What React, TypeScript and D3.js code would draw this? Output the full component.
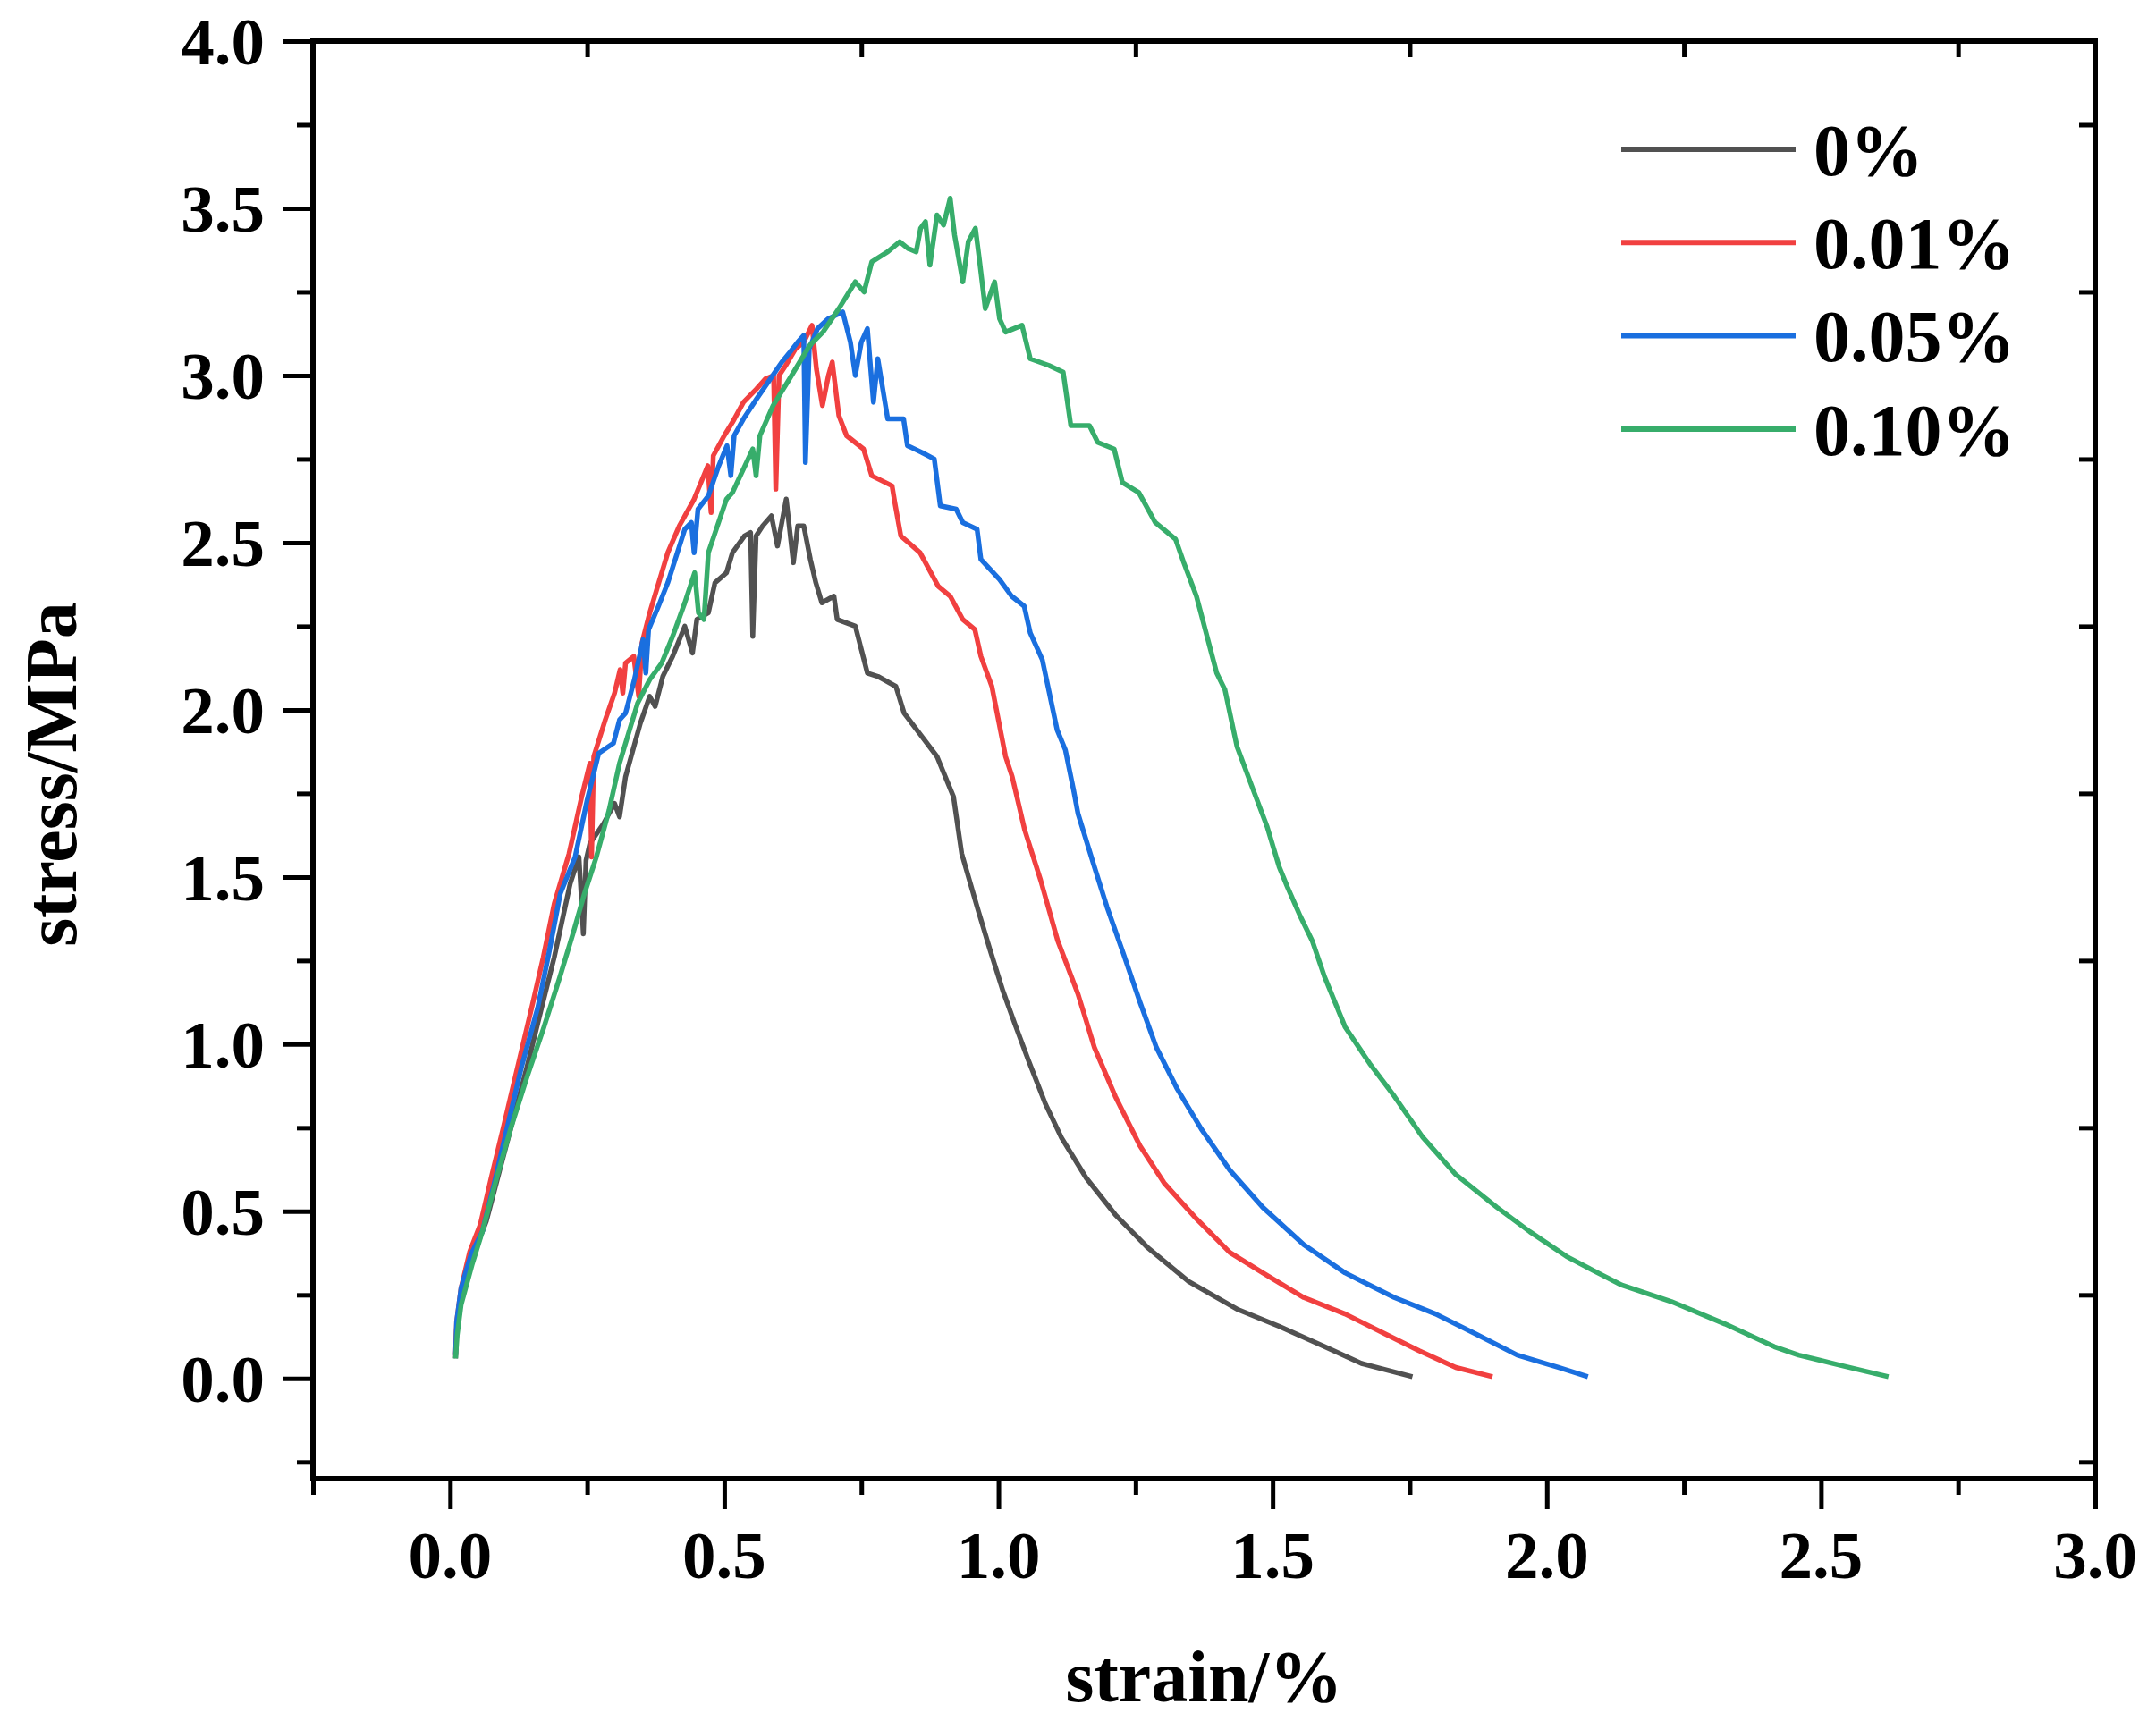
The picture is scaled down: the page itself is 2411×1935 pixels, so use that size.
import { useEffect, useRef } from "react"
import * as d3 from "d3"

type Pt = [number, number]

// strain (%) , stress (MPa)
const fiber0: Pt[] = [
  [0.01, 0.06], [0.012, 0.15], [0.02, 0.25], [0.04, 0.36], [0.066, 0.47], [0.09, 0.62], [0.111, 0.75],
  [0.14, 0.93], [0.167, 1.11], [0.19, 1.26], [0.219, 1.48], [0.235, 1.56], [0.24, 1.42], [0.243, 1.33],
  [0.248, 1.55], [0.255, 1.6], [0.28, 1.66], [0.3, 1.72], [0.309, 1.68], [0.32, 1.8], [0.347, 1.96],
  [0.364, 2.04], [0.374, 2.01], [0.388, 2.1], [0.406, 2.16], [0.428, 2.25], [0.442, 2.17], [0.45, 2.27],
  [0.471, 2.29], [0.483, 2.38], [0.504, 2.41], [0.515, 2.47], [0.537, 2.52], [0.548, 2.53], [0.552, 2.22],
  [0.558, 2.52], [0.57, 2.55], [0.586, 2.58], [0.597, 2.49], [0.613, 2.63], [0.626, 2.44], [0.634, 2.55],
  [0.645, 2.55], [0.657, 2.45], [0.667, 2.38], [0.678, 2.32], [0.7, 2.34], [0.706, 2.27], [0.739, 2.25],
  [0.761, 2.11], [0.78, 2.1], [0.813, 2.07], [0.828, 1.99], [0.858, 1.925], [0.888, 1.86], [0.918, 1.74],
  [0.933, 1.57], [0.963, 1.4], [0.985, 1.28], [1.008, 1.16], [1.03, 1.06], [1.055, 0.95], [1.086, 0.82],
  [1.115, 0.72], [1.16, 0.6], [1.213, 0.49], [1.273, 0.39], [1.347, 0.29], [1.437, 0.206], [1.512, 0.156],
  [1.595, 0.095], [1.662, 0.045], [1.755, 0.005],
]

const fiber001: Pt[] = [
  [0.01, 0.07], [0.012, 0.17], [0.02, 0.27], [0.036, 0.38], [0.055, 0.46], [0.075, 0.6], [0.097, 0.75],
  [0.12, 0.91], [0.149, 1.11], [0.17, 1.26], [0.19, 1.42], [0.217, 1.57], [0.24, 1.74], [0.255, 1.84],
  [0.258, 1.56], [0.262, 1.86], [0.283, 1.97], [0.3, 2.05], [0.31, 2.12], [0.315, 2.05], [0.32, 2.14],
  [0.335, 2.16], [0.344, 2.04], [0.35, 2.2], [0.364, 2.29], [0.397, 2.47], [0.418, 2.55], [0.445, 2.63],
  [0.47, 2.73], [0.476, 2.59], [0.48, 2.76], [0.5, 2.82], [0.515, 2.86], [0.535, 2.92], [0.559, 2.96],
  [0.575, 2.99], [0.59, 3.0], [0.594, 2.66], [0.6, 3.0], [0.612, 3.03], [0.63, 3.08], [0.645, 3.1],
  [0.66, 3.15], [0.668, 3.02], [0.679, 2.91], [0.69, 3.0], [0.697, 3.04], [0.709, 2.88], [0.723, 2.82],
  [0.754, 2.78], [0.769, 2.7], [0.806, 2.67], [0.811, 2.62], [0.822, 2.52], [0.857, 2.47], [0.89, 2.37],
  [0.912, 2.34], [0.935, 2.27], [0.957, 2.24], [0.968, 2.16], [0.988, 2.07], [1.013, 1.86], [1.025, 1.8],
  [1.048, 1.64], [1.077, 1.49], [1.108, 1.31], [1.145, 1.15], [1.175, 0.99], [1.213, 0.844],
  [1.258, 0.696], [1.302, 0.585], [1.362, 0.476], [1.422, 0.377], [1.482, 0.316], [1.557, 0.242],
  [1.632, 0.193], [1.707, 0.132], [1.767, 0.083], [1.834, 0.033], [1.901, 0.005],
]

const fiber005: Pt[] = [
  [0.01, 0.07], [0.012, 0.17], [0.02, 0.27], [0.038, 0.37], [0.059, 0.44], [0.08, 0.58], [0.104, 0.75],
  [0.13, 0.93], [0.16, 1.11], [0.18, 1.27], [0.201, 1.45], [0.228, 1.56], [0.25, 1.73], [0.271, 1.87],
  [0.298, 1.9], [0.309, 1.97], [0.32, 1.99], [0.336, 2.09], [0.352, 2.21], [0.357, 2.11], [0.362, 2.24],
  [0.38, 2.31], [0.397, 2.38], [0.428, 2.54], [0.44, 2.56], [0.445, 2.47], [0.452, 2.6], [0.471, 2.64],
  [0.49, 2.73], [0.505, 2.79], [0.512, 2.7], [0.518, 2.82], [0.535, 2.87], [0.559, 2.93], [0.58, 2.98],
  [0.605, 3.04], [0.62, 3.07], [0.634, 3.1], [0.645, 3.12], [0.648, 2.74], [0.655, 3.08], [0.67, 3.14],
  [0.69, 3.17], [0.716, 3.19], [0.73, 3.1], [0.739, 3.0], [0.75, 3.1], [0.761, 3.14], [0.772, 2.92],
  [0.78, 3.05], [0.79, 2.95], [0.798, 2.87], [0.827, 2.87], [0.834, 2.79], [0.86, 2.77], [0.883, 2.75],
  [0.894, 2.61], [0.923, 2.6], [0.935, 2.56], [0.961, 2.54], [0.968, 2.45], [1.002, 2.39], [1.024, 2.34],
  [1.047, 2.31], [1.058, 2.23], [1.08, 2.15], [1.107, 1.94], [1.122, 1.88], [1.137, 1.76], [1.145, 1.69],
  [1.175, 1.53], [1.198, 1.41], [1.228, 1.27], [1.258, 1.126], [1.288, 0.99], [1.325, 0.869],
  [1.37, 0.746], [1.422, 0.623], [1.482, 0.512], [1.557, 0.4], [1.632, 0.316], [1.722, 0.242],
  [1.797, 0.193], [1.872, 0.132], [1.946, 0.07], [2.021, 0.033], [2.075, 0.005],
]

const fiber010: Pt[] = [
  [0.01, 0.06], [0.013, 0.13], [0.02, 0.22], [0.04, 0.34], [0.059, 0.44], [0.085, 0.6], [0.111, 0.75],
  [0.14, 0.9], [0.171, 1.05], [0.2, 1.2], [0.224, 1.33], [0.245, 1.45], [0.266, 1.556], [0.29, 1.7],
  [0.309, 1.84], [0.342, 2.02], [0.364, 2.09], [0.386, 2.14], [0.406, 2.22], [0.428, 2.32], [0.446, 2.41],
  [0.453, 2.29], [0.463, 2.27], [0.471, 2.47], [0.504, 2.63], [0.515, 2.65], [0.552, 2.78], [0.558, 2.7],
  [0.565, 2.82], [0.589, 2.91], [0.619, 2.99], [0.656, 3.09], [0.68, 3.13], [0.709, 3.2], [0.739, 3.28],
  [0.755, 3.25], [0.769, 3.34], [0.798, 3.37], [0.82, 3.4], [0.835, 3.38], [0.85, 3.37], [0.858, 3.44],
  [0.867, 3.46], [0.875, 3.33], [0.888, 3.48], [0.9, 3.45], [0.912, 3.53], [0.92, 3.42], [0.935, 3.28],
  [0.945, 3.4], [0.958, 3.44], [0.965, 3.35], [0.976, 3.2], [0.993, 3.28], [1.002, 3.17], [1.013, 3.13],
  [1.043, 3.15], [1.058, 3.05], [1.092, 3.03], [1.118, 3.01], [1.132, 2.85], [1.166, 2.85], [1.181, 2.8],
  [1.211, 2.78], [1.226, 2.68], [1.256, 2.65], [1.286, 2.56], [1.323, 2.51], [1.338, 2.44], [1.361, 2.34],
  [1.398, 2.11], [1.413, 2.06], [1.435, 1.89], [1.467, 1.75], [1.49, 1.65], [1.512, 1.53], [1.527, 1.47],
  [1.55, 1.384], [1.572, 1.31], [1.595, 1.2], [1.632, 1.052], [1.677, 0.942], [1.722, 0.844],
  [1.774, 0.721], [1.834, 0.61], [1.909, 0.512], [1.969, 0.439], [2.036, 0.365], [2.1, 0.31],
  [2.137, 0.279], [2.227, 0.23], [2.325, 0.163], [2.415, 0.095], [2.459, 0.07], [2.534, 0.04],
  [2.623, 0.005],
]

const seriesNames = ["0%", "0.01%", "0.05%", "0.10%"]
const seriesColors = ["#515151", "#F14040", "#1A6FDF", "#37AD6B"]
const seriesData = [fiber0, fiber001, fiber005, fiber010]

const xMajor = [0, 0.5, 1.0, 1.5, 2.0, 2.5, 3.0]
const xMinor = [-0.25, 0.25, 0.75, 1.25, 1.75, 2.25, 2.75]
const yMajor = [0, 0.5, 1.0, 1.5, 2.0, 2.5, 3.0, 3.5, 4.0]
const yMinor = [-0.25, 0.25, 0.75, 1.25, 1.75, 2.25, 2.75, 3.25, 3.75]

const W = 2411
const H = 1935
const FONT = "'Liberation Serif', 'Times New Roman', serif"

export default function App() {
  const svgRef = useRef<SVGSVGElement>(null)

  useEffect(() => {
    document.body.style.margin = "0"
    if (!svgRef.current) return
    const svg = d3.select(svgRef.current)
    svg.selectAll("*").remove()

    const left = 350
    const right = 2343
    const top = 46
    const bottom = 1654

    const x = d3.scaleLinear().domain([-0.25, 3.0]).range([left, right])
    const y = d3.scaleLinear().domain([-0.3, 4.0]).range([bottom, top])

    // curves
    const line = d3
      .line<Pt>()
      .x((d) => x(d[0]))
      .y((d) => y(d[1]))

    seriesData.forEach((data, i) => {
      svg
        .append("path")
        .datum(data)
        .attr("d", line)
        .attr("fill", "none")
        .attr("stroke", seriesColors[i])
        .attr("stroke-width", 5.5)
        .attr("stroke-linejoin", "round")
    })

    // ticks
    const tickStyle = (g: d3.Selection<SVGGElement, unknown, null, undefined>) => {
      g.select(".domain").remove()
      g.selectAll("line").attr("stroke", "#000").attr("stroke-width", 5)
      g.selectAll("text").remove()
    }

    svg.append("g").attr("transform", `translate(0,${bottom})`)
      .call(d3.axisBottom(x).tickValues(xMajor).tickSize(34)).call(tickStyle)
    svg.append("g").attr("transform", `translate(0,${bottom})`)
      .call(d3.axisBottom(x).tickValues(xMinor).tickSize(18)).call(tickStyle)
    svg.append("g").attr("transform", `translate(${left},0)`)
      .call(d3.axisLeft(y).tickValues(yMajor).tickSize(34)).call(tickStyle)
    svg.append("g").attr("transform", `translate(${left},0)`)
      .call(d3.axisLeft(y).tickValues(yMinor).tickSize(18)).call(tickStyle)
    svg.append("g").attr("transform", `translate(0,${top})`)
      .call(d3.axisTop(x).tickValues(xMinor.slice(1)).tickSize(-18)).call(tickStyle)
    svg.append("g").attr("transform", `translate(${right},0)`)
      .call(d3.axisRight(y).tickValues(yMinor).tickSize(-18)).call(tickStyle)

    // frame
    svg.append("rect")
      .attr("x", left).attr("y", top)
      .attr("width", right - left).attr("height", bottom - top)
      .attr("fill", "none").attr("stroke", "#000").attr("stroke-width", 6)

    // tick labels
    svg.append("g").selectAll("text").data(xMajor).enter().append("text")
      .attr("x", (d) => x(d)).attr("y", 1765)
      .attr("text-anchor", "middle")
      .style("font-family", FONT).style("font-weight", "bold").style("font-size", "75px")
      .text((d) => d.toFixed(1))

    svg.append("g").selectAll("text").data(yMajor).enter().append("text")
      .attr("x", 296).attr("y", (d) => y(d) + 26)
      .attr("text-anchor", "end")
      .style("font-family", FONT).style("font-weight", "bold").style("font-size", "75px")
      .text((d) => d.toFixed(1))

    // axis titles
    svg.append("text")
      .attr("x", (left + right) / 2).attr("y", 1903)
      .attr("text-anchor", "middle")
      .style("font-family", FONT).style("font-weight", "bold").style("font-size", "82px")
      .text("strain/%")

    svg.append("text")
      .attr("transform", `translate(85,${(top + bottom) / 2 + 16}) rotate(-90)`)
      .attr("text-anchor", "middle")
      .style("font-family", FONT).style("font-weight", "bold").style("font-size", "82px")
      .text("stress/MPa")

    // legend
    const legend = svg.append("g")
    seriesNames.forEach((name, i) => {
      const ly = 167 + i * 104.3
      legend.append("line")
        .attr("x1", 1813).attr("x2", 2008).attr("y1", ly).attr("y2", ly)
        .attr("stroke", seriesColors[i]).attr("stroke-width", 6)
      legend.append("text")
        .attr("x", 2028).attr("y", ly).attr("dy", "0.35em")
        .style("font-family", FONT).style("font-weight", "bold").style("font-size", "82px")
        .text(name)
    })
  }, [])

  return <svg ref={svgRef} width={W} height={H} style={{ display: "block", background: "#fff" }} />
}
